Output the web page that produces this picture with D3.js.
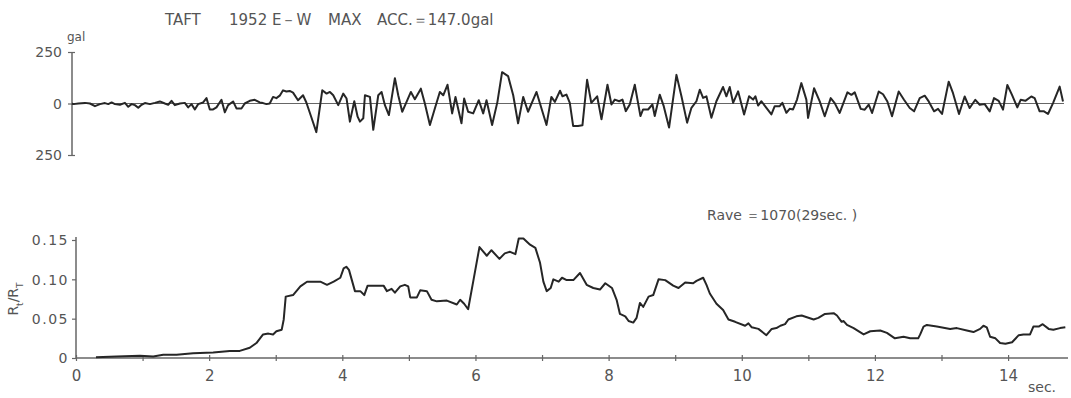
<!DOCTYPE html>
<html>
<head>
<meta charset="utf-8">
<script src="https://cdn.jsdelivr.net/npm/d3@7"></script>
<style>
  body { margin: 0; background: #fff; }
  svg text { font-family: "DejaVu Sans", sans-serif; fill: #555; }
</style>
</head>
<body>
<svg id="chart"></svg>
<script>
// accelerogram, TAFT 1952 E-W (sec, gal)
const accTime = [
  0, 0.02, 0.095, 0.195, 0.27, 0.345, 0.42, 0.495, 0.545, 0.595, 0.645, 0.72, 0.795, 0.845, 0.895, 0.945,
  0.995, 1.045, 1.095, 1.17, 1.245, 1.32, 1.395, 1.445, 1.495, 1.545, 1.62, 1.695, 1.745, 1.795, 1.845,
  1.895, 1.97, 2.02, 2.07, 2.12, 2.17, 2.245, 2.295, 2.345, 2.42, 2.47, 2.545, 2.595, 2.67, 2.745, 2.82,
  2.87, 2.92, 2.97, 3.02, 3.07, 3.12, 3.17, 3.22, 3.27, 3.32, 3.395, 3.47, 3.52, 3.595, 3.67,
  3.759, 3.824, 3.874, 3.924, 3.999, 4.074, 4.124, 4.174, 4.24, 4.29, 4.325, 4.375, 4.40, 4.475, 4.525,
  4.60, 4.65, 4.70, 4.76, 4.85, 4.90, 4.96, 5.025, 5.09, 5.15, 5.24, 5.30, 5.376, 5.45, 5.525, 5.576,
  5.64, 5.71, 5.76, 5.85, 5.89, 5.95, 6.026, 6.11, 6.176, 6.226, 6.31, 6.39, 6.46, 6.55, 6.627, 6.70,
  6.777, 6.85, 6.977, 7.127, 7.20, 7.253, 7.33,
  7.367, 7.427, 7.477, 7.527, 7.60, 7.667, 7.737, 7.80, 7.888, 7.953, 8.043, 8.103, 8.153, 8.218, 8.268,
  8.318, 8.378, 8.453, 8.538, 8.578, 8.653, 8.718, 8.753, 8.828, 8.888, 8.968, 9.079, 9.154, 9.239,
  9.304, 9.379, 9.429, 9.479, 9.529, 9.604, 9.679, 9.779, 9.829, 9.879, 9.93, 10.005, 10.095, 10.17,
  10.23, 10.265, 10.305, 10.355, 10.43, 10.505, 10.555, 10.63, 10.67, 10.73, 10.78, 10.83, 10.89, 10.955,
  11.03, 11.056, 11.146, 11.231, 11.306, 11.396, 11.456, 11.531, 11.647, 11.707, 11.757, 11.847, 11.907,
  11.967, 12.017, 12.117, 12.182, 12.247, 12.317, 12.417, 12.497, 12.583, 12.648, 12.733, 12.808,
  12.868, 12.948, 13.008, 13.068, 13.168, 13.233, 13.323, 13.408, 13.483, 13.568, 13.634, 13.709,
  13.784, 13.849, 13.919, 13.984, 14.049, 14.119, 14.199, 14.249, 14.319, 14.409, 14.459, 14.534,
  14.6, 14.66, 14.735, 14.835, 14.885
];
const accValue = [
  0, -3, 0, 3, 0, -13, -3, 2, -3, 5, -3, -6, 3, -16, -3, -8,
  -21, -6, 2, -3, 3, 10, 0, -6, 13, -8, 0, 3, -19, -3, -29,
  -3, 5, 26, -29, -29, -19, 18, -43, -8, 10, -24, -24, 0, 13, 18, 5,
  2, -3, 0, 32, 26, 38, 64, 58, 61, 53, 16, 40, 5, -67, -139,
  64, 48, 56, 40, -8, 48, 24, -88, 11, -64, -88, -72, 40, 32, -128,
  40, 56, -8, -56, 123, 40, -40, 8, 56, 21, 72, 0, -104, -24, 56, 40,
  91, -48, 32, -96, 24, -40, -48, 16, -48, 16, -104, 8, 152, 133, 40, -96,
  32, -40, 56, -104, 32, 8, 62,
  35, 43, 3, -109, -109, -106, 115, 3, 35, -77, 91, -5, 19, 11, 19,
  -37, -5, 91, -61, -29, -29, -5, -61, 43, -13, -117, 139, 35, -93,
  -21, 11, 67, 27, 35, -69, 11, 80, 35, 80, 3, 59, -53, 35,
  19, 35, -10, 11, -21, -53, -13, -13, 3, -45, -26, -29, 19, 99,
  19, -70, 74, 10, -62, 26, 2, -46, 54, 42, 54, -26, -30,
  -6, -46, 58, 45, 10, -62, 58, 18, -22, -38, 26, 38,
  10, -38, -26, -51, 106, 50, -51, 34, -22, 18, -6, -3,
  -38, 26, 13, -30, 90, 42, -19, 18, 13, 34, 26, -38,
  -38, -51, 2, 82, 10
];

// R_t / R_T (sec, ratio)
const ratioTime = [
  0.30, 0.61, 0.96, 1.16, 1.31, 1.51, 1.76, 2.06, 2.31, 2.46, 2.61, 2.71, 2.81, 2.89, 2.96, 3.01, 3.09,
  3.12, 3.15, 3.26, 3.37, 3.47, 3.67, 3.77, 3.87, 3.97, 4.02, 4.06, 4.10, 4.19, 4.27, 4.33, 4.38, 4.47,
  4.62, 4.67, 4.74, 4.79, 4.87, 4.94, 4.99, 5.02, 5.12, 5.17, 5.27, 5.34, 5.42, 5.57, 5.72, 5.77, 5.83,
  5.89, 5.97, 6.06, 6.17, 6.24, 6.36, 6.44, 6.52, 6.60, 6.65, 6.72, 6.82, 6.90, 6.97, 7.02, 7.07, 7.13,
  7.17, 7.25, 7.30, 7.37, 7.47, 7.57, 7.67, 7.77, 7.87, 7.95, 8.05, 8.12, 8.17, 8.25, 8.30, 8.37, 8.42,
  8.47, 8.52, 8.60, 8.67, 8.75, 8.85, 8.97, 9.05, 9.15, 9.27, 9.32, 9.42, 9.47, 9.52, 9.62, 9.72, 9.80,
  9.90, 10.05, 10.10, 10.15, 10.25, 10.37, 10.45, 10.52, 10.58, 10.65, 10.70, 10.82, 10.90, 11.08, 11.15,
  11.25, 11.38, 11.43, 11.50, 11.53, 11.58, 11.68, 11.83, 11.93, 12.08, 12.18, 12.30, 12.43, 12.53,
  12.65, 12.68, 12.73, 12.78, 12.93, 13.13, 13.23, 13.38, 13.48, 13.58, 13.63, 13.68, 13.73, 13.81,
  13.88, 13.96, 14.06, 14.16, 14.23, 14.33, 14.38, 14.46, 14.52, 14.61, 14.68, 14.78, 14.86
];
const ratioValue = [
  0.001, 0.002, 0.003, 0.002, 0.004, 0.004, 0.006, 0.007, 0.009, 0.009, 0.013, 0.019, 0.030, 0.031, 0.030, 0.034, 0.036,
  0.049, 0.078, 0.080, 0.091, 0.097, 0.097, 0.093, 0.097, 0.102, 0.114, 0.116, 0.112, 0.085, 0.085, 0.080, 0.092, 0.092,
  0.092, 0.085, 0.088, 0.083, 0.091, 0.093, 0.091, 0.077, 0.077, 0.086, 0.085, 0.074, 0.072, 0.073, 0.068, 0.074, 0.069,
  0.062, 0.099, 0.141, 0.130, 0.137, 0.126, 0.133, 0.135, 0.132, 0.152, 0.152, 0.144, 0.140, 0.121, 0.097, 0.085, 0.089,
  0.100, 0.097, 0.102, 0.099, 0.099, 0.108, 0.093, 0.089, 0.087, 0.095, 0.089, 0.074, 0.056, 0.053, 0.047, 0.045, 0.051,
  0.070, 0.065, 0.078, 0.080, 0.100, 0.099, 0.092, 0.089, 0.096, 0.095, 0.098, 0.102, 0.093, 0.082, 0.069, 0.061, 0.049,
  0.046, 0.041, 0.044, 0.039, 0.037, 0.029, 0.037, 0.038, 0.041, 0.043, 0.049, 0.053, 0.054, 0.049, 0.051,
  0.056, 0.057, 0.054, 0.046, 0.047, 0.042, 0.038, 0.030, 0.034, 0.035, 0.032, 0.025, 0.027, 0.025,
  0.025, 0.030, 0.040, 0.042, 0.040, 0.037, 0.038, 0.035, 0.033, 0.037, 0.041, 0.039, 0.027, 0.025,
  0.019, 0.018, 0.020, 0.029, 0.030, 0.030, 0.040, 0.040, 0.043, 0.037, 0.036, 0.038, 0.039
];

const accTicks = [-250, 0, 250];
const ratioTicks = [0, 0.05, 0.10, 0.15];
const ratioTickLabels = ['0', '0.05', '0.10', '0.15'];
const secTicks = d3.range(0, 15, 1);
const secLabels = [0, 2, 4, 6, 8, 10, 12, 14];

const width = 1071, height = 398;
const svg = d3.select('#chart').attr('width', width).attr('height', height);

const lineColor = '#262626';
const axisColor = '#666';

// ---- top: acceleration
const xTop = d3.scaleLinear().domain([0, 14.9]).range([72, 1064]);
const yTop = d3.scaleLinear().domain([-250, 250]).range([155, 52]);

svg.append('line')
  .attr('x1', xTop(0)).attr('x2', xTop(14.9))
  .attr('y1', yTop(0)).attr('y2', yTop(0))
  .attr('stroke', axisColor).attr('stroke-width', 1.2);

const topAxis = svg.append('g')
  .attr('transform', `translate(${xTop(0)},0)`)
  .call(d3.axisLeft(yTop).tickValues(accTicks).tickSize(4)
    .tickFormat(d => Math.abs(d)));
topAxis.select('.domain').attr('stroke', axisColor).attr('stroke-width', 1.5)
  .attr('d', `M0,${yTop(-250)}V${yTop(250)}`);
topAxis.selectAll('.tick line').attr('stroke', axisColor).attr('x1', 3).attr('stroke-width', 1.2);
topAxis.selectAll('.tick text').attr('x', -10).attr('dy', '0.35em')
  .style('font-size', '14px').style('fill', '#555');

svg.append('path')
  .datum(d3.range(accTime.length))
  .attr('fill', 'none')
  .attr('stroke', lineColor)
  .attr('stroke-width', 2)
  .attr('stroke-linejoin', 'round')
  .attr('d', d3.line().x(i => xTop(accTime[i])).y(i => yTop(accValue[i])));

svg.append('text').attr('x', 67).attr('y', 41).style('font-size', '12px').text('gal');

const title = svg.append('text').attr('y', 25).style('font-size', '15px');
title.append('tspan').attr('x', 165).text('TAFT');
title.append('tspan').attr('x', 229).text('1952 E－W');
title.append('tspan').attr('x', 328).text('MAX');
title.append('tspan').attr('x', 377).text('ACC.＝147.0gal');

// ---- bottom: R_t / R_T
const xBot = d3.scaleLinear().domain([0, 14.9]).range([76, 1068]);
const yBot = d3.scaleLinear().domain([0, 0.15]).range([358, 240]);

const xAxis = svg.append('g')
  .attr('transform', `translate(0,${yBot(0)})`)
  .call(d3.axisBottom(xBot).tickValues(secTicks).tickSize(3)
    .tickFormat(d => secLabels.includes(d) ? d : ''));
xAxis.select('.domain').attr('stroke', axisColor).attr('stroke-width', 1.4)
  .attr('d', `M${xBot(0)},0H${xBot(14.9)}`);
xAxis.selectAll('.tick line').attr('stroke', axisColor).attr('y1', -3).attr('stroke-width', 1.2);
xAxis.selectAll('.tick text').attr('y', 12)
  .style('font-size', '15px').style('fill', '#555');

const yAxis = svg.append('g')
  .attr('transform', `translate(${xBot(0)},0)`)
  .call(d3.axisLeft(yBot).tickValues(ratioTicks).tickSize(4)
    .tickFormat((d, i) => ratioTickLabels[i]));
yAxis.select('.domain').attr('stroke', axisColor).attr('stroke-width', 1.5)
  .attr('d', `M0,${yBot(0)}V${yBot(0.15) - 3}`);
yAxis.selectAll('.tick line').attr('stroke', axisColor).attr('stroke-width', 1.2);
yAxis.selectAll('.tick text').attr('x', -7).attr('dy', '0.35em')
  .style('font-size', '14px').style('letter-spacing', '1.5px').style('fill', '#555');

svg.append('path')
  .datum(d3.range(ratioTime.length))
  .attr('fill', 'none')
  .attr('stroke', lineColor)
  .attr('stroke-width', 2)
  .attr('stroke-linejoin', 'round')
  .attr('d', d3.line().x(i => xBot(ratioTime[i])).y(i => yBot(ratioValue[i])));

const yLab = svg.append('text')
  .attr('transform', 'translate(18,299) rotate(-90)')
  .attr('text-anchor', 'middle')
  .style('font-size', '14px');
yLab.append('tspan').text('R');
yLab.append('tspan').attr('baseline-shift', 'sub').style('font-size', '9px').text('t');
yLab.append('tspan').text('/R');
yLab.append('tspan').attr('baseline-shift', 'sub').style('font-size', '9px').text('T');

svg.append('text').attr('x', 707).attr('y', 220).style('font-size', '14px')
  .text('Rave ＝1070(29sec. )');

svg.append('text').attr('x', 1028).attr('y', 392).style('font-size', '14px').text('sec.');
</script>
</body>
</html>
